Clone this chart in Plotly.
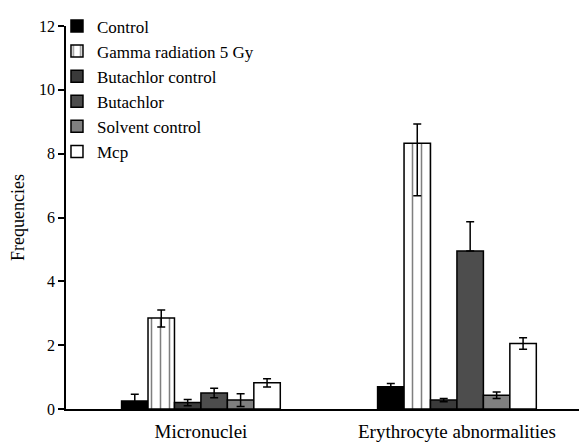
import plotly.graph_objects as go

categories = ["Micronuclei", "Erythrocyte abnormalities"]
series_names = ["Control", "Gamma radiation 5 Gy", "Butachlor control", "Butachlor", "Solvent control", "Mcp"]
values = [
    [0.25, 0.70],
    [2.85, 8.33],
    [0.20, 0.28],
    [0.50, 4.95],
    [0.28, 0.43],
    [0.82, 2.05],
]
err_plus = [
    [0.21, 0.10],
    [0.25, 0.60],
    [0.10, 0.05],
    [0.15, 0.92],
    [0.20, 0.10],
    [0.13, 0.18],
]
err_minus = [
    [0.21, 0.10],
    [0.28, 1.65],
    [0.10, 0.05],
    [0.15, 0.0],
    [0.20, 0.10],
    [0.13, 0.18],
]
colors = ["#000000", "#ffffff", "#3a3a3a", "#4d4d4d", "#808080", "#ffffff"]
y_ticks = [0, 2, 4, 6, 8, 10, 12]

font = "Liberation Serif, Times New Roman, serif"

fig = go.Figure()
for i, name in enumerate(series_names):
    marker = dict(color=colors[i], line=dict(color="black", width=1.5))
    if i == 1:
        marker["pattern"] = dict(shape="|", fgcolor="black", bgcolor="white", size=9, solidity=0.17)
    fig.add_trace(go.Bar(
        name=name,
        x=categories,
        y=values[i],
        marker=marker,
        error_y=dict(type="data", array=err_plus[i], arrayminus=err_minus[i],
                     color="black", thickness=1.5, width=4, symmetric=False),
    ))

# page body has an 8px default margin; figure is sized to fit the 587x442 window
fig.update_layout(
    width=579, height=434,
    margin=dict(l=58, r=0, t=10, b=33),
    paper_bgcolor="white", plot_bgcolor="white",
    barmode="group", bargap=0.38, bargroupgap=0,
    font=dict(family=font, size=16, color="black"),
    showlegend=True,
    legend=dict(x=-0.0173, y=1.046, xanchor="left", yanchor="top",
                bgcolor="rgba(0,0,0,0)", font=dict(size=17, family=font),
                tracegroupgap=0, itemwidth=30),
    xaxis=dict(range=[-0.527, 1.508], showline=True, linecolor="black", linewidth=1.5,
               ticks="", showgrid=False, zeroline=False, tickfont=dict(size=19),
               ticklabelstandoff=4),
    yaxis=dict(range=[0, 12], tickvals=y_ticks, showline=True, linecolor="black", linewidth=1.5,
               ticks="outside", ticklen=6, tickwidth=1.5, tickcolor="black",
               showgrid=False, zeroline=False,
               title=dict(text="Frequencies", font=dict(size=18), standoff=10),
               tickfont=dict(size=16)),
)

fig.write_html("out.html")
